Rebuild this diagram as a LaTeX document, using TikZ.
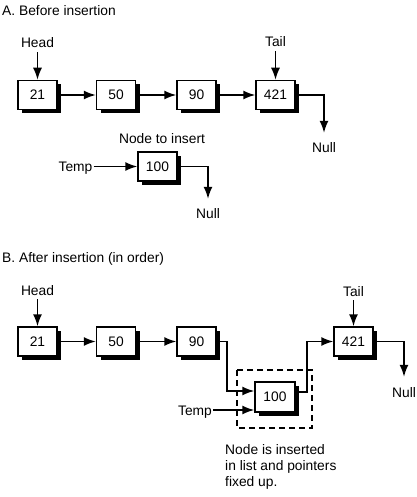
\documentclass[tikz,border=0pt]{standalone}
\usepackage{fontspec}
\setmainfont{Liberation Sans}
\usetikzlibrary{arrows.meta,shadows}

\begin{document}
\begin{tikzpicture}[x=1pt,y=-1pt,font=\fontsize{13.8}{16}\selectfont]
    \tikzset{block/.style={rectangle, draw, fill=white, line width=1.5pt, minimum height=29pt, minimum width=39pt, inner sep=0pt, general shadow={shadow xshift=4pt, shadow yshift=-4pt, fill=black}}}
    \tikzset{tag/.style={inner sep=1pt, text height=10pt, text depth=0pt}}
    \tikzset{line/.style={draw, line width=1.5pt, -{Latex[length=12pt,width=9pt]}}}
    \useasboundingbox (0,0) rectangle (416,497);

    % A. before insertion
    \node[tag, anchor=west] (titleA) at (1,11) {A. Before insertion};
    \node[tag] (headA) at (37.5,43) {Head};
    \node[tag] (tailA) at (275.5,42) {Tail};
    \node[block] (a21) at (37.5,95) {21};
    \node[block] (a50) at (116,95) {50};
    \node[block] (a90) at (196.5,95) {90};
    \node[block] (a421) at (275.5,95) {421};
    \node[tag] (nullA) at (324,148) {Null};
    \node[tag] (insA) at (162,139) {Node to insert};
    \node[block] (a100) at (157.5,166.5) {100};
    \node[tag] (tempA) at (75.5,166.5) {Temp};
    \node[tag] (nullA2) at (208,213) {Null};

    \draw[line, shorten <=3pt] (headA) -- (a21);
    \draw[line, shorten <=3pt] (tailA) -- (a421);
    \draw[line] (a21) -- (a50);
    \draw[line] (a50) -- (a90);
    \draw[line] (a90) -- (a421);
    \draw[line, shorten >=9pt] (a421.east) -| (nullA.north);
    \draw[line] (tempA) -- (a100);
    \draw[line, shorten >=8pt] (a100.east) -| (nullA2.north);

    % B. after insertion
    \node[tag, anchor=west] (titleB) at (1,257) {B. After insertion (in order)};
    \node[tag] (headB) at (37.5,290) {Head};
    \node[tag] (tailB) at (353.5,291) {Tail};
    \draw[dashed, dash pattern=on 6pt off 4pt, line width=1.5pt] (237,370) rectangle (312,428);
    \node[block] (b21) at (37.5,341.5) {21};
    \node[block] (b50) at (116,341.5) {50};
    \node[block] (b90) at (196.5,341.5) {90};
    \node[block] (b421) at (353.5,341.5) {421};
    \node[block, minimum height=30pt, minimum width=40pt] (b100) at (275,397) {100};
    \node[tag] (tempB) at (195,410) {Temp};
    \node[tag] (nullB) at (404,392) {Null};
    \node[anchor=north west, align=left, inner sep=0pt] (noteB) at (225,444) {Node is inserted\\in list and pointers\\fixed up.};
    \coordinate (dropB) at (227,391);
    \coordinate (riseB) at (307,341.5);

    \draw[line, shorten <=3pt] (headB) -- (b21);
    \draw[line, shorten <=3pt] (tailB) -- (b421);
    \draw[line] (b21) -- (b50);
    \draw[line] (b50) -- (b90);
    \draw[line] (b90.east) -| (dropB) -- (dropB -| b100.west);
    \draw[line] (tempB.east) -- (tempB.east -| b100.west);
    \draw[line] ([yshift=5pt]b100.east) -| (riseB) -- (b421.west);
    \draw[line, shorten >=9pt] (b421.east) -| (nullB.north);
\end{tikzpicture}
\end{document}
